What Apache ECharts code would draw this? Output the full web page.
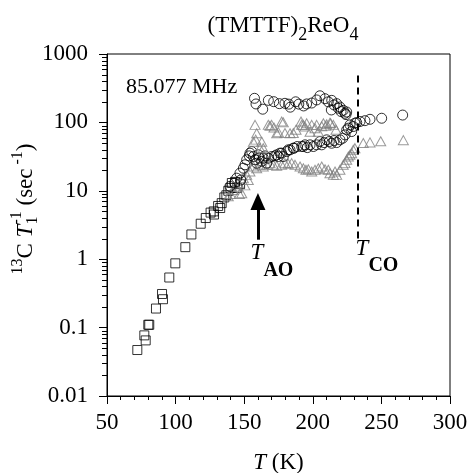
<!DOCTYPE html>
<html><head><meta charset="utf-8">
<script src="https://cdn.jsdelivr.net/npm/echarts@6/dist/echarts.min.js"></script>
<style>html,body{margin:0;padding:0;background:#fff}#c{width:468px;height:473px}</style>
</head><body><div id="c"></div>
<script>
// ---------- data ----------
const xTicks = [50, 100, 150, 200, 250, 300];
const yTicks = [0.01, 0.1, 1, 10, 100, 1000];

const squares = [[72.1,0.047],[77.2,0.077],[78.2,0.065],[80.1,0.11],[80.8,0.11],[85.7,0.19],[90.1,0.31],[90.8,0.26],[95.4,0.54],[99.8,0.87],[107.1,1.5],[111.5,2.3],[118.3,3.3],[122,4.0],[125.5,4.8],[127.8,5.0],[128,4.5],[131,6.0],[132.5,5.6],[133.6,6.6],[135.5,8.0],[137,8.6],[138.4,10],[140,11],[141,13],[143.3,13.5],[145,11],[147,12.5]];

const lowTri = [[138.4,8.3],[140,9],[142.1,10.3],[144,11.5],[145.7,13],[146.5,9],[148.2,9.2],[149.4,15.3],[150.5,12],[151.8,17.1],[153,14.4],[154.2,19.1],[156.7,22.6],[159.1,21.4],[161.5,24],[163.9,22.6],[166.4,24],[168.8,25.4],[171.2,24],[173.7,23.2],[177.3,24],[179.7,25.4],[182.1,24.8],[184.6,25.4],[187,24],[190.7,22.6],[193.1,21.4],[195,20.3],[196.7,20.7],[199.2,19.1],[201.6,20.3],[204,21.4],[206.5,22.6],[208.9,20.7],[211.3,20.3],[212.5,18.1],[215,17.1],[216.2,19.1],[217.4,17.1],[219.8,20.3],[222.2,24],[223.5,25.4],[224.7,28.4],[225.9,31.7],[227.1,33.6],[228.3,35.5],[229.5,39.7],[230.7,42],[236.8,50],[241.7,51],[249.5,53],[266,55]];

const upTri = [[156.7,52],[157.9,92],[158.4,56],[159.1,69.5],[161.5,42],[162.8,52],[163.9,42],[167.6,92],[168.8,89],[170,92],[171.7,84],[173.7,69.5],[174.9,72],[177.3,103],[178.5,100],[179.7,70],[183.4,69.5],[185.8,70],[187.8,78],[191.4,103],[191.9,92],[193.1,92],[194.3,87],[195.5,97],[198,73],[199.2,92],[201.6,82],[202.8,92],[204,73],[206.5,88],[207.7,97],[209.6,89],[210.1,94],[212.5,99],[213,97],[215,92],[216.9,78]];

const upCirc = [[157.5,225],[158.6,186],[163.5,156],[167.6,210],[171.5,201],[175.6,188],[179.7,190],[182.5,185],[183.6,167],[187.5,200],[189.8,185],[193.3,174],[195.5,186],[199.2,192],[202.8,213],[205.2,245],[208.9,222],[211.3,200],[213.8,210],[213.5,152],[215.5,180],[217.4,188],[218.6,161],[219.8,168],[220.6,144],[222.2,150],[223.5,136],[224.7,142],[224.2,130]];

const lowCirc = [[139.6,11.6],[143,13],[144.5,15.3],[146.9,18.1],[147.5,14.4],[149.4,21.4],[150.6,24],[151.8,28.4],[153.7,32.4],[154.2,35.5],[155.5,37.5],[156.7,31.7],[157.9,28.4],[159.1,25.3],[160.3,33.6],[161,30],[162.8,27],[163.9,30],[165.2,32.4],[166.4,25.3],[167.6,30],[170,31.7],[172.4,32.4],[173.7,33.6],[174.9,31.7],[176.1,35.5],[177.3,35.5],[178.5,31.7],[181,37.5],[182.1,39.7],[183.4,39.7],[185.8,42],[186.3,42],[188.7,44.4],[191.9,44.4],[193.1,44.4],[194.3,47],[196,42.8],[198,47],[200.4,44.4],[202.8,47],[205.2,52.5],[206.5,47],[208.2,50.7],[210.1,55.6],[212,52.5],[213.7,49.6],[215.5,54.3],[217.4,50.7],[219.8,55.6],[221.8,58.7],[223.5,65.7],[224.7,77.8],[225.9,82.3],[227.1,92],[228.3,73.5],[229.5,87],[230.7,97.3],[232,99.4],[234.4,103],[238,106],[241.7,111],[250.2,115],[265.5,128]];

const tCO = 232.5;          // dashed line temperature
const coLine = [2.0, 552];  // dashed line extent (y values)
const tAO = 160;            // arrow temperature
const aoArrow = [1.93, 7.0];// arrow extent (y values)

// ---------- helpers ----------
const FONT = '"Liberation Serif", "Times New Roman", serif';
const ctx = document.createElement('canvas').getContext('2d');
function fontStr(t){ return (t.i?'italic ':'')+(t.b?'bold ':'')+t.s+'px '+FONT; }
function richGroup(tokens, x, y, rotation){
  let cx = 0, prevStart = 0; const kids = [];
  tokens.forEach(t => {
    ctx.font = fontStr(t);
    const w = ctx.measureText(t.t).width;
    const start = t.stack ? prevStart : cx;
    kids.push({type:'text', x:start, y:t.dy||0, silent:true,
      style:{text:t.t, font:fontStr(t), fill:'#000', align:'left', verticalAlign:'middle'}});
    prevStart = start;
    cx = Math.max(cx, start + w);
  });
  kids.forEach(k => k.x -= cx/2);
  return {type:'group', x:x, y:y, rotation:rotation||0, silent:true, children:kids};
}
const minorY = [];
for (let d = -2; d <= 2; d++) for (let k = 2; k <= 9; k++) minorY.push(+(k*Math.pow(10,d)).toPrecision(3));
const minorYData = minorY.map(v => [xTicks[0], v]);

const lbl = v => { const t = yTicks.find(t => Math.abs(Math.log10(t)-Math.log10(v)) < 1e-6); return t === undefined ? '' : String(t); };

const hollow = (c, w) => ({color:'transparent', borderColor:c, borderWidth:w});

const chart = echarts.init(document.getElementById('c'), null, {renderer:'canvas'});
chart.setOption({
  animation:false,
  backgroundColor:'#fff',
  grid:{left:107, right:18, top:54, bottom:77, show:true, borderColor:'#000', borderWidth:1,
        containLabel:false, outerBoundsMode:'none'},
  xAxis:{type:'value', min:xTicks[0], max:xTicks[xTicks.length-1], interval:50,
    axisLine:{lineStyle:{color:'#000', width:1}},
    axisTick:{length:8, lineStyle:{color:'#000'}},
    minorTick:{show:true, splitNumber:5, length:4, lineStyle:{color:'#000'}},
    splitLine:{show:false},
    axisLabel:{color:'#000', fontSize:23, fontFamily:FONT, margin:15},
    name:'{i|T} (K)', nameLocation:'middle', nameGap:55,
    nameTextStyle:{color:'#000', fontSize:23, fontFamily:FONT, rich:{i:{fontStyle:'italic', fontSize:23, fontFamily:FONT, color:'#000'}}}
  },
  yAxis:{type:'log', logBase:10, min:yTicks[0], max:yTicks[yTicks.length-1],
    axisLine:{lineStyle:{color:'#000', width:1}},
    axisTick:{length:8, lineStyle:{color:'#000'}},
    splitLine:{show:false}, minorTick:{show:false},
    axisLabel:{color:'#000', fontSize:23, fontFamily:FONT, margin:19, formatter:lbl}
  },
  graphic:[
    richGroup([{t:'(TMTTF)',s:23},{t:'2',s:18,dy:9},{t:'ReO',s:23},{t:'4',s:18,dy:9}], 283, 26),
    richGroup([{t:'13',s:16,dy:-8},{t:'C',s:23},{t:' ',s:23},{t:'T',s:23,i:1},{t:'-1',s:16,dy:-9},{t:'1',s:16,dy:7,stack:1},{t:' (sec',s:23},{t:' -1',s:16,dy:-8},{t:')',s:23}], 26, 209, Math.PI/2),
    richGroup([{t:'T',s:23,i:1},{t:'AO',s:20,b:1,dy:18}], 272, 253),
    richGroup([{t:'T',s:23,i:1},{t:'CO',s:20,b:1,dy:17}], 377, 249),
    {type:'text', x:126, y:87, silent:true, style:{text:'85.077 MHz', font:'22px '+FONT, fill:'#000', verticalAlign:'middle'}}
  ],
  series:[
    {type:'custom', data:minorYData, clip:false, silent:true, z:5,
      renderItem:(params, api) => {
        const p = api.coord([api.value(0), api.value(1)]);
        const y = Math.round(p[1]) + 0.5;
        return {type:'line', shape:{x1:p[0]-5, y1:y, x2:p[0], y2:y}, style:{stroke:'#000', lineWidth:1}};
      }},
    {type:'scatter', data:squares, symbol:'rect', symbolSize:9, itemStyle:hollow('#000',1), silent:true,
      markLine:{silent:true, animation:false, label:{show:false}, emphasis:{disabled:true},
        data:[
          [{coord:[tCO, coLine[0]], symbol:'none', lineStyle:{type:[7,5], width:2, color:'#000'}},{coord:[tCO, coLine[1]], symbol:'none'}],
          [{coord:[tAO, aoArrow[0]], symbol:'none', lineStyle:{type:'solid', width:3, color:'#000'}},{coord:[tAO, aoArrow[1]], symbol:'triangle', symbolSize:[15,17]}]
        ]}},
    {type:'scatter', data:lowTri, symbol:'triangle', symbolSize:[10,9], itemStyle:hollow('#808080',1), silent:true},
    {type:'scatter', data:lowCirc, symbol:'circle', symbolSize:10, itemStyle:hollow('#000',1), silent:true},
    {type:'scatter', data:upTri, symbol:'triangle', symbolSize:[10,9], itemStyle:hollow('#808080',1), silent:true},
    {type:'scatter', data:upCirc, symbol:'circle', symbolSize:10, itemStyle:hollow('#000',1), silent:true}
  ]
});
</script></body></html>
